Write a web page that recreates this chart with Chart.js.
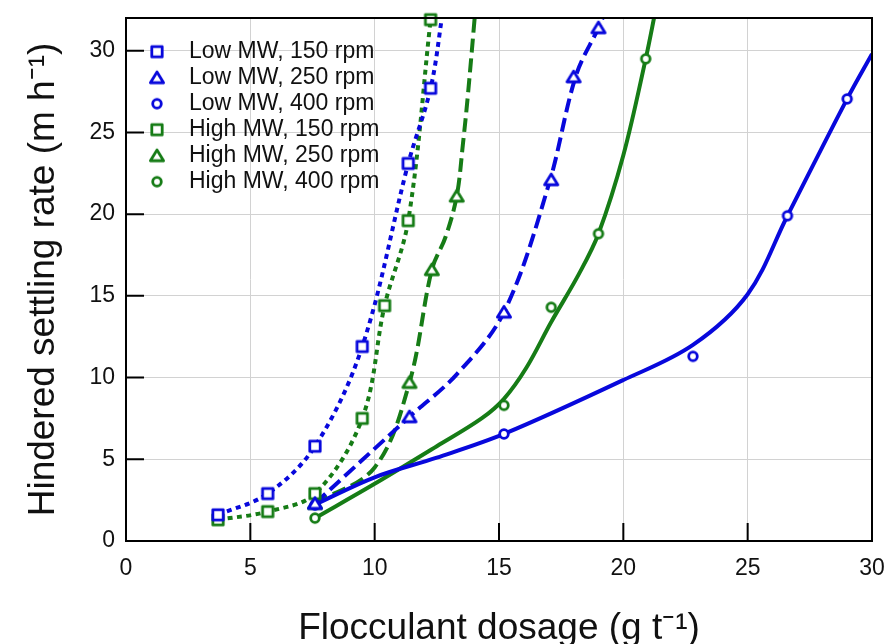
<!DOCTYPE html>
<html>
<head>
<meta charset="utf-8">
<script src="https://cdn.jsdelivr.net/npm/chart.js@4.4.1/dist/chart.umd.min.js"></script>
<style>
  html, body { margin: 0; padding: 0; background: #fff; }
  #wrap { width: 887px; height: 644px; position: relative; }
</style>
</head>
<body>
<div id="wrap"><canvas id="chart"></canvas></div>
<script>
// measured points (flocculant dosage g/t, settling rate m/h)
const lowMW150X = [3.7, 5.7, 7.6, 9.5, 11.35, 12.25];
const lowMW150Y = [1.6, 2.9, 5.8, 11.9, 23.1, 27.7];
const lowMW250X = [7.6, 11.4, 15.2, 17.1, 18.0, 19.0];
const lowMW250Y = [2.3, 7.6, 14.0, 22.1, 28.4, 31.4];
const lowMW400X = [7.6, 15.2, 22.8, 26.6, 29.0];
const lowMW400Y = [2.2, 6.55, 11.3, 19.9, 27.05];
const highMW150X = [3.7, 5.7, 7.6, 9.5, 10.4, 11.35, 12.25];
const highMW150Y = [1.3, 1.8, 2.9, 7.5, 14.4, 19.6, 31.9];
const highMW250X = [7.6, 11.4, 12.3, 13.3];
const highMW250Y = [2.3, 9.7, 16.6, 21.1];
const highMW400X = [7.6, 15.2, 17.1, 19.0, 20.9];
const highMW400Y = [1.4, 8.3, 14.3, 18.8, 29.5];

// fitted curves
const lowMW150FitX = [3.7, 5.7, 7.6, 9.5, 11.35, 12.25, 12.75];
const lowMW150FitY = [1.6, 2.9, 5.8, 11.9, 23.1, 27.7, 32.5];
const lowMW250FitX = [7.6, 11.4, 13.3, 15.2, 17.0, 18.1, 19.0, 19.25];
const lowMW250FitY = [2.3, 7.6, 10.2, 14.0, 21.8, 28.5, 31.4, 32.3];
const lowMW400FitX = [7.7, 10, 12.5, 15.2, 20, 22.8, 25, 26.6, 29.0, 30];
const lowMW400FitY = [2.3, 3.9, 5.1, 6.55, 9.85, 12.0, 15.1, 19.9, 27.05, 29.8];
const highMW150FitX = [3.7, 5.7, 7.6, 9.5, 10.4, 11.35, 12.25, 12.3];
const highMW150FitY = [1.3, 1.8, 2.9, 7.5, 14.4, 19.6, 31.9, 32.5];
const highMW250FitX = [7.6, 10.0, 11.4, 12.3, 12.85, 13.3, 13.55, 13.75, 14.05];
const highMW250FitY = [2.3, 4.5, 9.7, 16.6, 18.6, 21.1, 24.3, 27.3, 32.5];
const highMW400FitX = [7.6, 10, 12.5, 14.3, 15.2, 16.1, 17.1, 18.2, 19.0, 20.0, 20.9, 21.3];
const highMW400FitY = [1.4, 3.5, 5.8, 7.5, 8.7, 10.6, 13.4, 16.3, 18.8, 23.6, 29.5, 32.5];

const labels = ['Low MW, 150 rpm', 'Low MW, 250 rpm', 'Low MW, 400 rpm',
                'High MW, 150 rpm', 'High MW, 250 rpm', 'High MW, 400 rpm'];
const xTicks = [0, 5, 10, 15, 20, 25, 30];

const BLUE = '#0808dc';
const GREEN = '#167c16';
const FONT = "'Liberation Sans', Arial, sans-serif";

Chart.defaults.font.family = FONT;
Chart.defaults.color = '#111';

// hollow marker drawn once, used for plot and legend
function marker(shape, color) {
  const c = document.createElement('canvas');
  c.width = 18; c.height = 18;
  const g = c.getContext('2d');
  g.strokeStyle = color;
  g.fillStyle = '#fff';
  g.lineWidth = 2.8;
  g.lineJoin = 'round';
  g.beginPath();
  if (shape === 'square') {
    g.rect(3.8, 3.8, 10.4, 10.4);
  } else if (shape === 'triangle') {
    g.moveTo(9, 3.2);
    g.lineTo(15.6, 14);
    g.lineTo(2.4, 14);
    g.closePath();
  } else {
    g.arc(9, 9, 4.3, 0, Math.PI * 2);
  }
  g.fill();
  g.stroke();
  return c;
}

function pts(xs, ys) {
  return xs.map((x, i) => ({x: x, y: ys[i]}));
}

const series = [
  {x: lowMW150X, y: lowMW150Y, fx: lowMW150FitX, fy: lowMW150FitY, color: BLUE, shape: 'square', dash: [5, 4.5]},
  {x: lowMW250X, y: lowMW250Y, fx: lowMW250FitX, fy: lowMW250FitY, color: BLUE, shape: 'triangle', dash: [14, 6]},
  {x: lowMW400X, y: lowMW400Y, fx: lowMW400FitX, fy: lowMW400FitY, color: BLUE, shape: 'circle', dash: []},
  {x: highMW150X, y: highMW150Y, fx: highMW150FitX, fy: highMW150FitY, color: GREEN, shape: 'square', dash: [5, 4.5]},
  {x: highMW250X, y: highMW250Y, fx: highMW250FitX, fy: highMW250FitY, color: GREEN, shape: 'triangle', dash: [14, 6]},
  {x: highMW400X, y: highMW400Y, fx: highMW400FitX, fy: highMW400FitY, color: GREEN, shape: 'circle', dash: []}
];

const markerSets = series.map((s, i) => ({
  label: labels[i],
  data: pts(s.x, s.y),
  showLine: false,
  pointStyle: marker(s.shape, s.color),
  borderColor: s.color,
  backgroundColor: '#fff',
  clip: false
}));

const fitSets = series.map(s => ({
  label: '',
  data: pts(s.fx, s.fy),
  showLine: true,
  pointRadius: 0,
  borderColor: s.color,
  borderWidth: 4,
  borderDash: s.dash,
  borderCapStyle: 'butt',
  tension: 0.35,
  fill: false
}));

// black frame and inward tick marks
const framePlugin = {
  id: 'frame',
  afterDatasetsDraw(chart) {
    const {ctx, chartArea: a, scales} = chart;
    ctx.save();
    ctx.strokeStyle = '#000';
    ctx.lineWidth = 2;
    ctx.strokeRect(a.left, a.top, a.right - a.left, a.bottom - a.top);
    ctx.beginPath();
    scales.x.ticks.forEach(t => {
      const px = scales.x.getPixelForValue(t.value);
      ctx.moveTo(px, a.bottom);
      ctx.lineTo(px, a.bottom - 18);
    });
    scales.y.ticks.forEach(t => {
      const py = scales.y.getPixelForValue(t.value);
      ctx.moveTo(a.left, py);
      ctx.lineTo(a.left + 18, py);
    });
    ctx.stroke();
    ctx.restore();
  }
};

// place the in-plot legend below the top left corner
const legendShift = {
  id: 'legendShift',
  afterLayout(chart) {
    chart.legend.left = chart.chartArea.left + 7.5;
    chart.legend.top = chart.chartArea.top + 19.2;
  }
};

new Chart(document.getElementById('chart'), {
  type: 'scatter',
  data: { datasets: markerSets.concat(fitSets) },
  options: {
    animation: false,
    responsive: true,
    maintainAspectRatio: false,
    layout: { padding: { top: 18, right: 15, left: 0, bottom: 0 } },
    scales: {
      x: {
        type: 'linear',
        min: 0, max: 30,
        afterBuildTicks: s => { s.ticks = xTicks.map(v => ({value: v})); },
        afterFit: s => { s.height = 103; s.paddingLeft = 0; s.paddingRight = 0; },
        ticks: { padding: 14, color: '#111', font: { size: 23 } },
        grid: { color: '#d2d2d2', lineWidth: 1, drawTicks: false },
        border: { display: false },
        title: {
          display: true,
          text: 'Flocculant dosage (g t⁻¹)',
          color: '#111',
          font: { size: 37, lineHeight: 0.8 },
          padding: 0
        }
      },
      y: {
        type: 'linear',
        min: 0, max: 32,
        afterFit: s => { s.width = 126; s.paddingTop = 0; s.paddingBottom = 0; },
        ticks: { stepSize: 5, includeBounds: false, padding: 11, color: '#111', font: { size: 23 } },
        grid: { color: '#d2d2d2', lineWidth: 1, drawTicks: false },
        border: { display: false },
        title: {
          display: true,
          text: 'Hindered settling rate (m h⁻¹)',
          color: '#111',
          font: { size: 37, lineHeight: 1 },
          padding: { top: 25, bottom: 0 }
        }
      }
    },
    plugins: {
      legend: {
        position: 'chartArea',
        align: 'start',
        labels: {
          usePointStyle: true,
          pointStyleWidth: 41,
          padding: 3,
          textAlign: 'left',
          color: '#111',
          font: { size: 23 },
          filter: item => item.text !== ''
        }
      },
      tooltip: { enabled: false }
    }
  },
  plugins: [framePlugin, legendShift]
});
</script>
</body>
</html>
